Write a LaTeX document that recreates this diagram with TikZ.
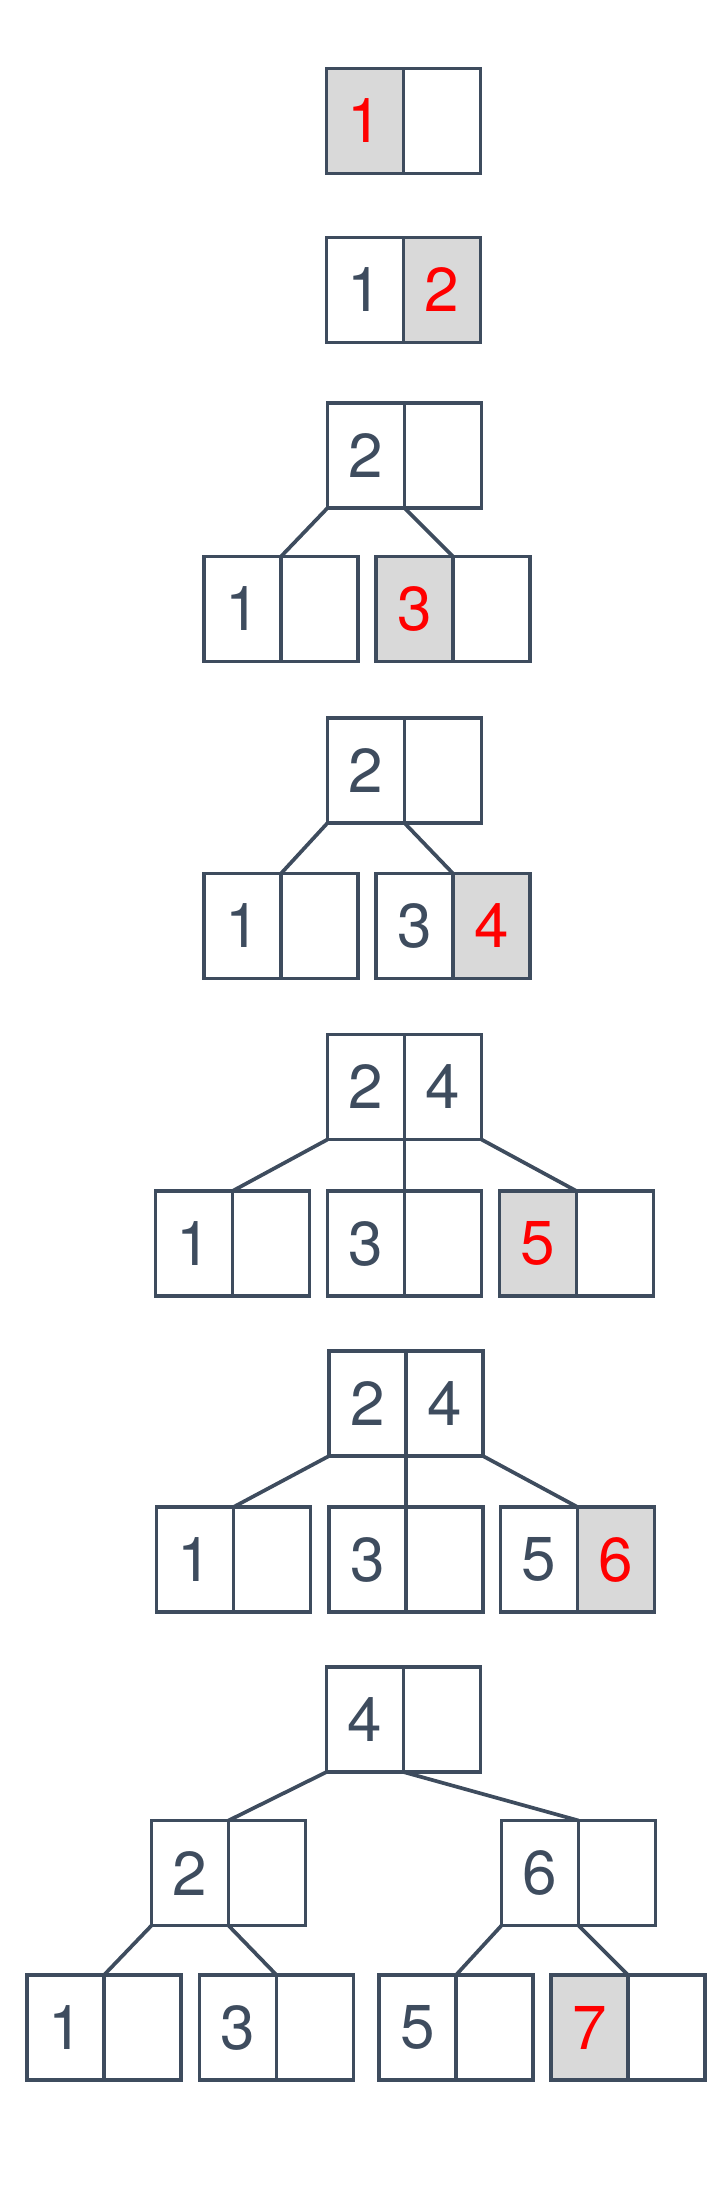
\documentclass[tikz,border=0pt]{standalone}
\usepackage{fontspec}
\setmainfont{TeX Gyre Heros}
\usetikzlibrary{positioning}
\definecolor{slate}{RGB}{62,76,94}
\definecolor{hl}{RGB}{217,217,217}

\begin{document}
\begin{tikzpicture}[x=0.5pt,y=-0.5pt,node distance=0pt,
 cell/.style={draw=slate,line width=1.85pt,minimum width=38.5pt,minimum height=52.5pt,
  inner sep=0pt,outer sep=0pt,text=slate,font=\fontsize{31}{31}\selectfont},
 new/.style={cell,fill=hl,text=red},
 link/.style={draw=slate,line width=1.85pt}]
\useasboundingbox (0,0) rectangle (720,2191);

% insert 1
\node[new] (a0l) at (365,121) {1};
\node[cell,right=of a0l] (a0r) {};

% insert 2
\node[cell] (b0l) at (365,290) {1};
\node[new,right=of b0l] (b0r) {2};

% insert 3: split
\node[cell] (c0l) at (366,455.5) {2};
\node[cell,right=of c0l] (c0r) {};
\node[cell] (c1l) at (242.5,609) {1};
\node[cell,right=of c1l] (c1r) {};
\node[new] (c2l) at (414.5,609) {3};
\node[cell,right=of c2l] (c2r) {};
\draw[link] (c0l.south west)--(c1l.north east);
\draw[link] (c0l.south east)--(c2l.north east);

% insert 4
\node[cell] (d0l) at (366,770.5) {2};
\node[cell,right=of d0l] (d0r) {};
\node[cell] (d1l) at (242.5,926) {1};
\node[cell,right=of d1l] (d1r) {};
\node[cell] (d2l) at (414.5,926) {3};
\node[new,right=of d2l] (d2r) {4};
\draw[link] (d0l.south west)--(d1l.north east);
\draw[link] (d0l.south east)--(d2l.north east);

% insert 5: split
\node[cell] (e0l) at (366,1087) {2};
\node[cell,right=of e0l] (e0r) {4};
\node[cell] (e1l) at (194,1243.5) {1};
\node[cell,right=of e1l] (e1r) {};
\node[cell] (e2l) at (366,1243.5) {3};
\node[cell,right=of e2l] (e2r) {};
\node[new] (e3l) at (538,1243.5) {5};
\node[cell,right=of e3l] (e3r) {};
\draw[link] (e0l.south west)--(e1l.north east);
\draw[link] (e0l.south east)--(e2l.north east);
\draw[link] (e0r.south east)--(e3l.north east);

% insert 6
\node[cell] (f0l) at (367.5,1403.5) {2};
\node[cell,right=of f0l] (f0r) {4};
\node[cell] (f1l) at (195,1559.5) {1};
\node[cell,right=of f1l] (f1r) {};
\node[cell] (f2l) at (367.5,1559.5) {3};
\node[cell,right=of f2l] (f2r) {};
\node[cell] (f3l) at (539,1559.5) {5};
\node[new,right=of f3l] (f3r) {6};
\draw[link] (f0l.south west)--(f1l.north east);
\draw[link] (f0l.south east)--(f2l.north east);
\draw[link] (f0r.south east)--(f3l.north east);

% insert 7: split twice
\node[cell] (g0l) at (365,1719.5) {4};
\node[cell,right=of g0l] (g0r) {};
\node[cell] (g1l) at (190,1873) {2};
\node[cell,right=of g1l] (g1r) {};
\node[cell] (g2l) at (540,1873) {6};
\node[cell,right=of g2l] (g2r) {};
\node[cell] (g3l) at (65.5,2027.5) {1};
\node[cell,right=of g3l] (g3r) {};
\node[cell] (g4l) at (238,2027.5) {3};
\node[cell,right=of g4l] (g4r) {};
\node[cell] (g5l) at (417.5,2027.5) {5};
\node[cell,right=of g5l] (g5r) {};
\node[new] (g6l) at (589.5,2027.5) {7};
\node[cell,right=of g6l] (g6r) {};
\draw[link] (g0l.south west)--(g1l.north east);
\draw[link] (g0l.south east)--(g2l.north east);
\draw[link] (g1l.south west)--(g3l.north east);
\draw[link] (g1l.south east)--(g4l.north east);
\draw[link] (g2l.south west)--(g5l.north east);
\draw[link] (g2l.south east)--(g6l.north east);
\end{tikzpicture}
\end{document}
